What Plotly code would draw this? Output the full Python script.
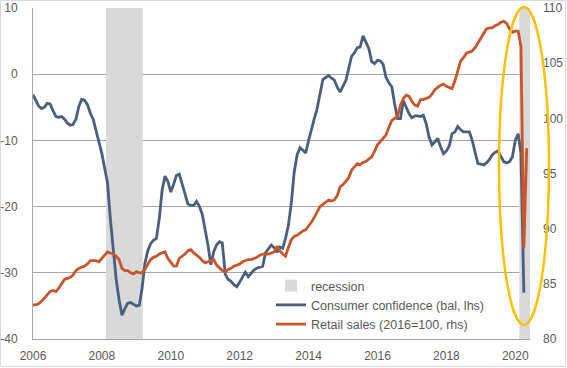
import pandas as pd
import plotly.graph_objects as go

# ---------------- data ----------------
confidence_start = "2006-01-01"
confidence = [
    # 2006
    -3.1, -4.0, -4.8, -5.2, -5.0, -4.4, -4.5, -5.5, -6.4, -6.5, -6.4, -6.8,
    # 2007
    -7.4, -7.7, -7.6, -6.8, -4.9, -3.8, -3.9, -4.6, -5.9, -6.8, -8.5, -10.4,
    # 2008
    -12.0, -14.3, -16.4, -22.0, -26.6, -31.0, -34.0, -36.4, -35.4, -34.6, -34.5, -34.8,
    # 2009
    -35.0, -34.9, -32.5, -28.6, -26.7, -25.6, -25.1, -24.8, -21.8, -17.5, -15.4, -16.2,
    # 2010
    -17.8, -16.6, -15.3, -15.1, -16.6, -18.5, -19.6, -19.8, -19.8, -19.2, -20.0, -21.2,
    # 2011
    -23.5, -26.0, -28.8, -26.8, -25.8, -25.3, -25.5, -30.2, -31.0, -31.3, -31.8, -32.1,
    # 2012
    -31.4, -30.6, -29.9, -30.6, -30.1, -29.6, -29.3, -29.1, -29.0, -27.0, -26.3, -25.8,
    # 2013
    -26.2, -26.9, -26.1, -26.3, -24.8, -22.8, -19.5, -14.8, -12.2, -11.1, -11.5, -11.9,
    # 2014
    -10.0, -8.5, -6.8, -5.2, -2.8, -0.8, -0.5, -0.2, -0.6, -0.9, -2.0, -2.7,
    # 2015
    -1.8, -0.9, 0.8, 2.7, 3.2, 4.0, 4.1, 5.8, 4.8, 3.9, 1.9, 1.6,
    # 2016
    2.1, 2.0, 1.5, -0.5, -1.3, -1.9, -4.5, -6.7, -6.7, -4.0, -5.0, -6.0,
    # 2017
    -6.6, -6.3, -6.3, -6.4, -6.2, -7.5, -9.5, -10.7, -10.2, -9.7, -11.0, -12.0,
    # 2018
    -11.6, -10.8, -9.0, -8.7, -7.9, -8.4, -8.7, -8.7, -8.7, -10.0, -12.0, -13.5,
    # 2019
    -13.6, -13.7, -13.4, -12.9, -12.2, -11.8, -11.6, -12.5, -13.2, -13.4, -13.2, -12.5,
    # 2020
    -10.0, -9.0, -12.0, -33.0,
]

retail_start = "2006-01-01"
retail = [
    # 2006
    83.1, 83.1, 83.2, 83.4, 83.7, 84.0, 84.3, 84.4, 84.3, 84.6, 85.0, 85.4,
    # 2007
    85.5, 85.6, 85.8, 86.2, 86.4, 86.5, 86.6, 86.8, 87.1, 87.1, 87.1, 87.0,
    # 2008
    87.3, 87.6, 87.9, 87.8, 87.7, 87.5, 87.2, 86.4, 86.2, 86.2, 86.0, 85.9,
    # 2009
    86.1, 86.0, 86.0, 86.3, 86.8, 87.2, 87.4, 87.5, 87.7, 87.8, 87.9, 87.3,
    # 2010
    86.9, 86.6, 86.6, 87.3, 87.5, 87.7, 88.0, 88.1, 87.8, 87.6, 87.4, 87.1,
    # 2011
    86.9, 87.0, 87.1, 87.2, 86.7, 86.4, 86.2, 86.1, 86.3, 86.4, 86.6, 86.7,
    # 2012
    86.8, 87.0, 87.1, 87.2, 87.2, 87.3, 87.4, 87.6, 87.7, 87.7, 87.7, 87.8,
    # 2013
    87.9, 88.4, 88.0, 87.7, 87.5, 88.3, 89.0, 89.3, 89.4, 89.6, 89.8, 89.9,
    # 2014
    90.2, 90.6, 91.0, 91.5, 92.0, 92.2, 92.4, 92.6, 92.5, 92.6, 93.0, 93.8,
    # 2015
    94.0, 94.3, 94.6, 95.3, 95.6, 95.9, 95.8, 96.0, 96.1, 96.3, 96.5, 97.0,
    # 2016
    97.6, 97.9, 98.2, 98.5, 99.2, 99.8, 100.0, 100.2, 101.2, 101.8, 102.1, 102.0,
    # 2017
    101.5, 101.2, 101.1, 101.7, 101.7, 101.8, 101.9, 102.2, 102.6, 102.8, 103.0, 103.1,
    # 2018
    102.9, 102.8, 102.7, 103.4, 104.2, 105.2, 105.5, 105.9, 106.0, 106.1, 106.4, 106.8,
    # 2019
    107.2, 107.7, 108.1, 108.2, 108.2, 108.4, 108.5, 108.7, 108.8, 108.6, 108.1, 107.8,
    # 2020
    107.9, 107.9, 106.5, 88.2, 97.3,
]

recession_start = ["2008-02-15", "2020-02-12"]
recession_end = ["2009-03-10", "2020-06-05"]

year_ticks = ["2006", "2008", "2010", "2012", "2014", "2016", "2018", "2020"]
left_ticks = [-40, -30, -20, -10, 0, 10]
right_ticks = [80, 85, 90, 95, 100, 105, 110]

# ---------------- styling ----------------
BLUE = "#4A5F7E"
ORANGE = "#C9562B"
GREY_BAR = "#D9D9D9"
GRID = "#A6A6A6"
TXT = "#595959"
FONT = "Liberation Sans"

conf_dates = pd.date_range(confidence_start, periods=len(confidence), freq="MS")
ret_dates = pd.date_range(retail_start, periods=len(retail), freq="MS")

rs = pd.to_datetime(recession_start)
re_ = pd.to_datetime(recession_end)
rec_mid = [a + (b - a) / 2 for a, b in zip(rs, re_)]
rec_width = [(b - a).total_seconds() * 1000 for a, b in zip(rs, re_)]

y_lo, y_hi = -40, 10
y2_lo, y2_hi = 80, 110

fig = go.Figure()

fig.add_trace(go.Bar(
    x=rec_mid, y=[y_hi - y_lo] * len(rec_mid), base=[y_lo] * len(rec_mid),
    width=rec_width, marker=dict(color=GREY_BAR, line=dict(width=0)),
    name="recession", xaxis="x", yaxis="y", hoverinfo="skip",
))
fig.add_trace(go.Scatter(
    x=conf_dates, y=confidence, mode="lines",
    line=dict(color=BLUE, width=2.8),
    name="Consumer confidence (bal, lhs)", xaxis="x", yaxis="y",
))
fig.add_trace(go.Scatter(
    x=ret_dates, y=retail, mode="lines",
    line=dict(color=ORANGE, width=2.8),
    name="Retail sales (2016=100, rhs)", xaxis="x", yaxis="y2",
))

W, H = 567, 368
ml, mr, mt, mb = 33, 37, 8, 29
pw, ph = W - ml - mr, H - mt - mb

def px_x(p):
    return (p - ml) / pw

def px_y(p):
    return (H - mb - p) / ph

x_range = ["2006-01-01", "2020-06-05"]

fig.update_layout(
    width=W, height=H,
    margin=dict(l=ml, r=mr, t=mt, b=mb, autoexpand=False),
    paper_bgcolor="white", plot_bgcolor="white",
    font=dict(family=FONT, size=12, color=TXT),
    barmode="overlay",
    showlegend=True,
    legend=dict(
        x=px_x(271), y=px_y(271), xanchor="left", yanchor="top",
        bgcolor="rgba(255,255,255,0)", borderwidth=0,
        font=dict(family=FONT, size=12.5, color=TXT),
        tracegroupgap=0, itemwidth=30,
    ),
    xaxis=dict(
        type="date", range=x_range, automargin=False,
        tickmode="array", tickvals=[f"{y}-01-01" for y in year_ticks], ticktext=year_ticks,
        ticks="", showgrid=False, zeroline=False,
        showline=True, linecolor=GRID, linewidth=1,
        anchor="y", side="bottom", ticklabelstandoff=6,
        tickfont=dict(family=FONT, size=12, color=TXT),
    ),
    xaxis2=dict(
        type="date", matches="x", overlaying="x", anchor="free", position=(0 - y_lo) / (y_hi - y_lo),
        range=x_range, automargin=False,
        tick0="2006-01-01", dtick="M12", ticks="outside", ticklen=4, tickcolor=GRID, tickwidth=1,
        showticklabels=False, showgrid=False, zeroline=False,
        showline=True, linecolor=GRID, linewidth=1,
    ),
    yaxis=dict(
        range=[y_lo, y_hi], tickmode="array", tickvals=left_ticks,
        ticktext=[str(v) for v in left_ticks],
        showgrid=True, gridcolor=GRID, gridwidth=1,
        zeroline=False, showline=True, linecolor=GRID, linewidth=1, automargin=False,
        ticks="", ticklabelstandoff=12,
        tickfont=dict(family=FONT, size=12, color=TXT),
    ),
    yaxis2=dict(
        range=[y2_lo, y2_hi], tickmode="array", tickvals=right_ticks,
        ticktext=[str(v) for v in right_ticks],
        overlaying="y", side="right", anchor="x",
        showgrid=False, zeroline=False, showline=False, ticks="", automargin=False,
        ticklabelstandoff=12,
        tickfont=dict(family=FONT, size=12, color=TXT),
    ),
    shapes=[
        # outer chart border
        dict(type="rect", xref="paper", yref="paper",
             x0=px_x(0.5), x1=px_x(W - 1.5), y0=px_y(H - 1.5), y1=px_y(0.5),
             line=dict(color="#D9D9D9", width=1), fillcolor="rgba(0,0,0,0)", layer="below"),
        # highlight ellipse
        dict(type="circle", xref="paper", yref="paper",
             x0=px_x(499), x1=px_x(549), y0=px_y(325), y1=px_y(7),
             line=dict(color="#FFC000", width=2.5), fillcolor="rgba(0,0,0,0)", layer="above"),
    ],
)

fig.write_html(
    "out.html",
    config={"displayModeBar": False},
    post_script="document.body.style.margin='0';document.body.style.padding='0';"
                "document.body.style.overflow='hidden';",
)
